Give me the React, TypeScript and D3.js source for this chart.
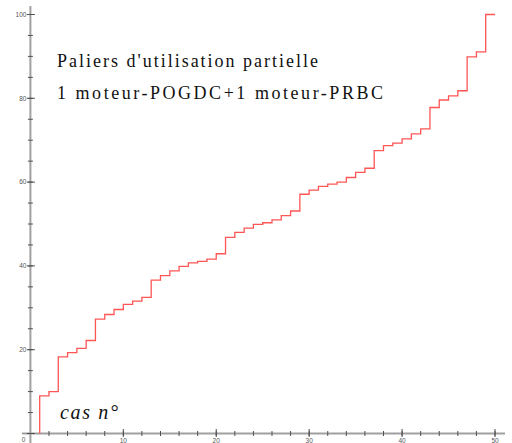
import React from "react";
import * as d3 from "d3";

// Case numbers and the level reached at each case (%)
const cases: number[] = Array.from({ length: 49 }, (_, i) => i + 1);
const levels: number[] = [
  9.0, 10.0, 18.3, 19.3, 20.3, 22.2, 27.3, 28.4, 29.6, 30.8,
  31.6, 32.5, 36.6, 37.7, 38.8, 39.9, 40.7, 41.1, 41.6, 42.9,
  46.8, 48.0, 49.0, 49.9, 50.3, 51.0, 52.0, 53.1, 57.1, 58.1,
  59.0, 59.5, 60.0, 61.1, 62.3, 63.3, 67.5, 68.7, 69.3, 70.3,
  71.5, 72.7, 77.8, 79.6, 80.6, 81.8, 89.9, 91.1, 100.0,
];
const lastCase = 50;

const xMajorTicks = [10, 20, 30, 40, 50];
const xMinorTicks = d3.range(2, 51, 2);
const yMajorTicks = [0, 20, 40, 60, 80, 100];
const yMinorTicks = d3.range(5, 101, 5);

const titleLines = ["Paliers d'utilisation partielle", "1 moteur-POGDC+1 moteur-PRBC"];
const xLabel = "cas n°";

const W = 512;
const H = 443;
const serif = "'Liberation Serif', 'Times New Roman', 'DejaVu Serif', serif";

export default function App() {
  const x = d3.scaleLinear().domain([0, 50]).range([30.4, 495]);
  const y = d3.scaleLinear().domain([0, 100]).range([433.5, 14.5]);

  const pts: [number, number][] = [
    [cases[0], 0],
    ...cases.map((c, i) => [c, levels[i]] as [number, number]),
    [lastCase, levels[levels.length - 1]],
  ];
  const line = d3
    .line<[number, number]>()
    .x((d) => x(d[0]))
    .y((d) => y(d[1]))
    .curve(d3.curveStepAfter);

  const ax = x(0);
  const ay = y(0);
  const axisColor = "#a0a0a0";
  const tickColor = "#505050";
  const labelFont = "'Liberation Sans', Arial, sans-serif";

  return (
    <svg
      width={W}
      height={H}
      style={{ position: "absolute", left: 0, top: 0, background: "#fff" }}
    >
      {/* axes */}
      <line x1={22} x2={505} y1={ay} y2={ay} stroke={axisColor} strokeWidth={2} />
      <line x1={ax} x2={ax} y1={443} y2={6} stroke={axisColor} strokeWidth={2} />

      {/* y ticks */}
      {yMinorTicks.map((t) => (
        <line key={"ym" + t} x1={ax - 2.5} x2={ax + 2.5} y1={y(t)} y2={y(t)} stroke={tickColor} strokeWidth={1} />
      ))}
      {yMajorTicks.map((t) => (
        <line key={"yM" + t} x1={ax - 3.5} x2={ax + 4.5} y1={y(t)} y2={y(t)} stroke={tickColor} strokeWidth={1} />
      ))}
      {yMajorTicks.map((t) => (
        <text
          key={"yl" + t}
          x={t === 0 ? ax - 5 : ax - 4}
          y={t === 0 ? y(t) + 6 : y(t)}
          dy="0.35em"
          textAnchor="end"
          style={{ fontFamily: labelFont }}
          fontSize={6.5}
          fill="#555"
        >
          {t}
        </text>
      ))}

      {/* x ticks */}
      {xMinorTicks.map((t) => (
        <line key={"xm" + t} x1={x(t)} x2={x(t)} y1={ay - 2.5} y2={ay + 2.5} stroke={tickColor} strokeWidth={1} />
      ))}
      {xMajorTicks.map((t) => (
        <line key={"xM" + t} x1={x(t)} x2={x(t)} y1={ay - 4.5} y2={ay + 3.5} stroke={tickColor} strokeWidth={1} />
      ))}
      {xMajorTicks.map((t) => (
        <text
          key={"xl" + t}
          x={x(t)}
          y={ay + 9}
          textAnchor="middle"
          style={{ fontFamily: labelFont }}
          fontSize={6.5}
          fill="#555"
        >
          {t}
        </text>
      ))}

      {/* step curve */}
      <path d={line(pts) ?? ""} fill="none" stroke="#ff5555" strokeWidth={1.3} />

      {/* titles */}
      {titleLines.map((s, i) => (
        <text
          key={"t" + i}
          x={57}
          y={67 + i * 32}
          style={{ fontFamily: serif }}
          fontSize={18}
          fill="#111"
          textLength={i === 0 ? 261 : 326}
          lengthAdjust="spacing"
        >
          {s}
        </text>
      ))}
      <text
        x={60}
        y={419}
        style={{ fontFamily: serif, fontStyle: "italic" }}
        fontSize={20}
        fill="#111"
        textLength={58}
        lengthAdjust="spacing"
      >
        {xLabel}
      </text>
    </svg>
  );
}
